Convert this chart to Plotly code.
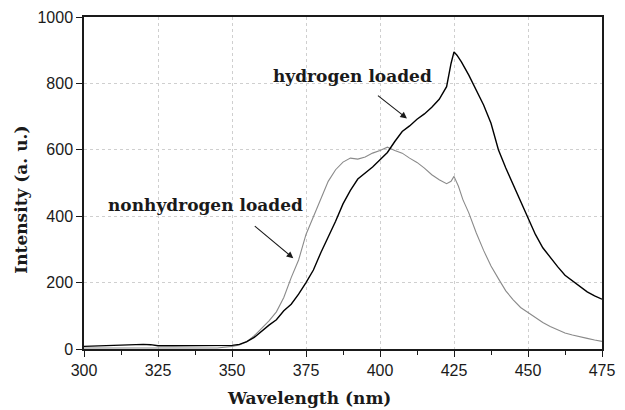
import plotly.graph_objects as go

# hydrogen loaded (black)
wl_h = [300, 302.5, 305, 307.5, 310, 312.5, 315, 317.5, 320, 322.5, 325, 330, 335, 340, 345,
        350, 352.5, 355, 357.5, 360, 362.5, 365, 367.5, 370, 372.5, 375, 377.5, 380, 382.5,
        385, 387.5, 390, 392.5, 395, 397.5, 400, 402.5, 405, 407.5, 410, 412.5, 415, 417.5,
        420, 422.5, 424, 425, 426, 427.5, 430, 432.5, 435, 437.5, 440, 442.5, 445, 447.5,
        450, 452.5, 455, 457.5, 460, 462.5, 465, 467.5, 470, 472.5, 475]
int_h = [8, 9, 10, 9, 10, 11, 14, 15, 14, 13, 10, 10, 10, 10, 10,
         11, 14, 22, 35, 55, 72, 88, 115, 135, 165, 200, 238, 290, 335,
         385, 437, 478, 512, 530, 548, 570, 592, 625, 655, 672, 692, 708, 728,
         752, 790, 860, 895, 885, 865, 825, 780, 735, 680, 600, 545, 495, 445,
         400, 345, 305, 275, 248, 222, 205, 190, 172, 160, 150]

# nonhydrogen loaded (gray)
wl_n = [300, 310, 320, 330, 340, 345, 350, 352.5, 355, 357.5, 360, 362.5, 365, 367.5, 370,
        372.5, 375, 377.5, 380, 382.5, 385, 387.5, 390, 392.5, 395, 397.5, 400, 402.5, 405,
        407.5, 410, 412.5, 415, 417.5, 420, 422.5, 424, 425, 426.5, 428, 430, 432.5, 435,
        437.5, 440, 442.5, 445, 447.5, 450, 452.5, 455, 457.5, 460, 462.5, 465, 467.5, 470,
        472.5, 475]
int_n = [3, 3, 3, 2, 2, 3, 8, 12, 22, 40, 62, 85, 112, 155, 215,
         268, 345, 400, 450, 505, 540, 563, 575, 572, 578, 590, 598, 608, 598,
         590, 575, 562, 545, 525, 510, 498, 505, 520, 490, 450, 410, 350, 297,
         250, 212, 175, 148, 125, 110, 95, 80, 68, 58, 48, 42, 36, 32,
         27, 23]

x_ticks = [300, 325, 350, 375, 400, 425, 450, 475]
y_ticks = [0, 200, 400, 600, 800, 1000]

serif = "DejaVu Serif"
sans = "Liberation Sans, Arial"
ink = "#1a1a1a"

fig = go.Figure()
fig.add_trace(go.Scatter(x=wl_n, y=int_n, mode="lines",
                         line=dict(color="#8a8a8a", width=1.1), showlegend=False))
fig.add_trace(go.Scatter(x=wl_h, y=int_h, mode="lines",
                         line=dict(color="#000000", width=1.4), showlegend=False))

fig.add_annotation(x=390.8, y=822, text="<b>hydrogen loaded</b>", showarrow=False,
                   font=dict(family=serif, size=17, color=ink))
fig.add_annotation(x=409.1, y=694.5, ax=398.8, ay=766.7, axref="x", ayref="y",
                   text="", showarrow=True, arrowhead=2, arrowsize=1.2, arrowwidth=1.1,
                   arrowcolor=ink)
fig.add_annotation(x=340.9, y=434, text="<b>nonhydrogen loaded</b>", showarrow=False,
                   font=dict(family=serif, size=17, color=ink))
fig.add_annotation(x=370.7, y=273.6, ax=357.2, ay=373.7, axref="x", ayref="y",
                   text="", showarrow=True, arrowhead=2, arrowsize=1.2, arrowwidth=1.1,
                   arrowcolor=ink)

# axis titles
fig.add_annotation(xref="paper", yref="paper", x=0.434, y=-0.148, yanchor="middle",
                   text="<b>Wavelength (nm)</b>", showarrow=False,
                   font=dict(family=serif, size=17, color=ink))
fig.add_annotation(xref="paper", yref="paper", x=-0.122, y=0.449, xanchor="center",
                   yanchor="middle", textangle=-90,
                   text="<b>Intensity (a. u.)</b>", showarrow=False,
                   font=dict(family=serif, size=17, color=ink))

# page body has an 8px default margin, so offset the figure to place the plot area
fig.update_layout(
    width=617, height=402, autosize=False,
    margin=dict(l=76, r=23, t=9, b=61),
    plot_bgcolor="white", paper_bgcolor="white",
)
fig.update_xaxes(
    range=[300, 475], tickvals=x_ticks, ticktext=[str(v) for v in x_ticks],
    showline=True, linecolor=ink, linewidth=1.5, mirror=True,
    ticks="outside", ticklen=6, tickwidth=1.2, tickcolor=ink,
    minor=dict(dtick=12.5, tick0=300, ticks="outside", ticklen=4, tickcolor=ink, showgrid=False),
    showgrid=True, gridcolor="#cfcfcf", griddash="dot", gridwidth=1,
    zeroline=False, automargin=False,
    tickfont=dict(family=sans, size=16, color=ink),
)
fig.update_yaxes(
    range=[0, 1000], tickvals=y_ticks, ticktext=[str(v) for v in y_ticks],
    showline=True, linecolor=ink, linewidth=1.5, mirror=True,
    ticks="outside", ticklen=6, tickwidth=1.2, tickcolor=ink,
    showgrid=True, gridcolor="#cfcfcf", griddash="dot", gridwidth=1,
    zeroline=False, automargin=False,
    tickfont=dict(family=sans, size=16, color=ink),
)

fig.write_html("out.html")
